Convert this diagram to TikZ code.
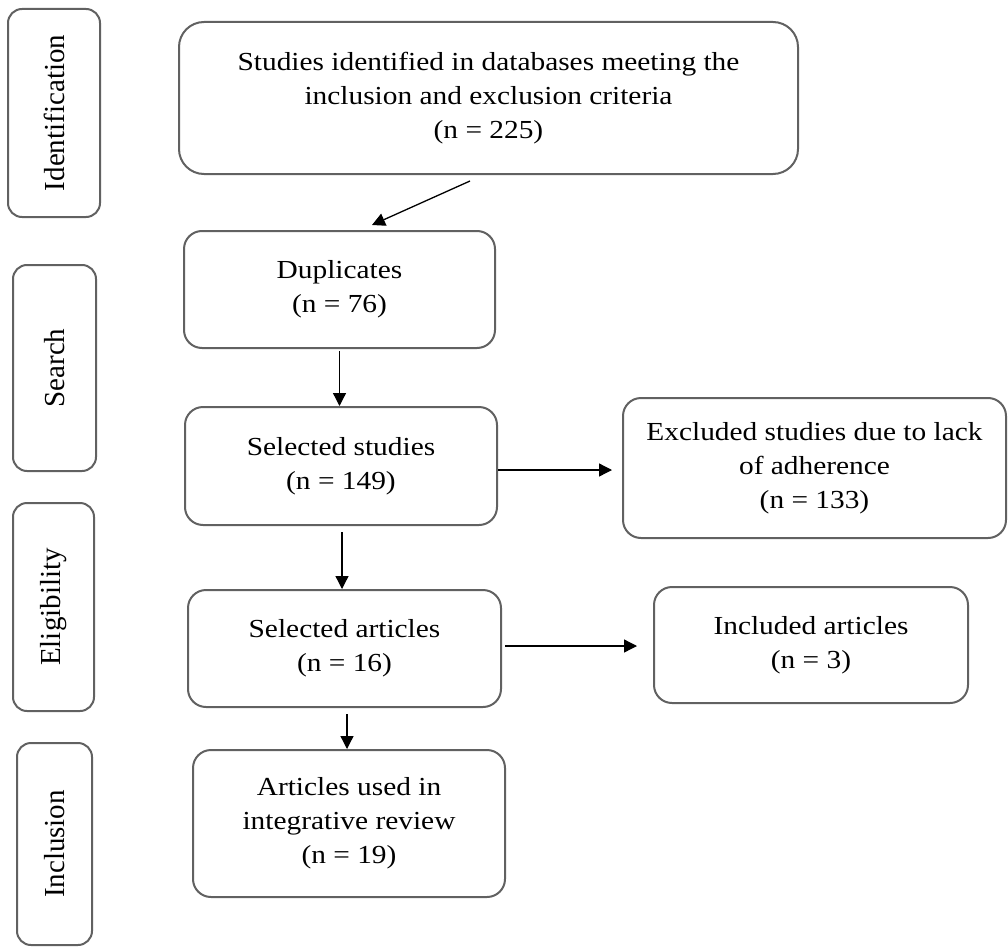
\documentclass[tikz,border=0pt]{standalone}
\usepackage{fontspec}
\setmainfont{Liberation Serif}[FakeStretch=1.13]
\newfontfamily\sidefont{Liberation Serif}
\usetikzlibrary{arrows.meta,calc}
\begin{document}
\begin{tikzpicture}[x=1pt,y=-1pt,
  box/.style={draw=black!62, line width=2pt, rounded corners=18pt, align=center,
    inner sep=0pt, font=\fontsize{26}{34}\selectfont, text=black},
  side/.style={draw=black!62, line width=2pt, rounded corners=14pt, inner sep=0pt,
    font=\sidefont\fontsize{29}{32}\selectfont, rotate=90},
  arr/.style={draw=black, line width=1.3pt, -{Triangle[length=13pt,width=13pt]}}]
\useasboundingbox (0,0) rectangle (1008,947);
% phase labels
\node[side, minimum width=208pt, minimum height=92pt] (ident) at (54,113) {Identification};
\node[side, minimum width=206pt, minimum height=83pt] (search) at (54.5,368) {Search};
\node[side, minimum width=208pt, minimum height=81pt] (elig) at (53.5,607) {Eligibility};
\node[side, minimum width=202pt, minimum height=75pt] (incl) at (54.5,844) {Inclusion};
% main boxes
\node[box, rounded corners=25pt, minimum width=619pt, minimum height=152pt] (top) at (488.5,98)
  {Studies identified in databases meeting the\\inclusion and exclusion criteria\\(n = 225)};
\node[box, minimum width=311pt, minimum height=117pt] (dup) at (339.5,289.5) {Duplicates\\(n = 76)};
\node[box, minimum width=312pt, minimum height=118pt] (sel) at (341,466) {Selected studies\\(n = 149)};
\node[box, minimum width=383pt, minimum height=140pt] (exc) at (814.5,468)
  {Excluded studies due to lack\\of adherence\\(n = 133)};
\node[box, minimum width=313pt, minimum height=117pt] (art) at (344.5,648.5) {Selected articles\\(n = 16)};
\node[box, minimum width=314pt, minimum height=116pt] (inc) at (811,645) {Included articles\\(n = 3)};
\node[box, minimum width=312pt, minimum height=147pt] (used) at (349,823.5)
  {Articles used in\\integrative review\\(n = 19)};
% connectors
\draw[arr] ([xshift=-18.5pt,yshift=-6pt]top.south) -- ([xshift=32.5pt,yshift=5pt]dup.north);
\draw[arr] ([yshift=-2pt]dup.south) -- (dup.south |- sel.north);
\draw[arr] ([xshift=1pt,yshift=-6pt]sel.south) coordinate (s1) -- (s1 |- art.north);
\draw[arr] ([xshift=2.5pt,yshift=-6pt]art.south) coordinate (s2) -- (s2 |- used.north);
\draw[arr] ([yshift=-4pt]sel.east) coordinate (a) -- ($(exc.west |- a)+(-10,0)$);
\draw[arr] ([xshift=3pt,yshift=2.5pt]art.east) coordinate (b) -- ($(inc.west |- b)+(-16,0)$);
\end{tikzpicture}
\end{document}
